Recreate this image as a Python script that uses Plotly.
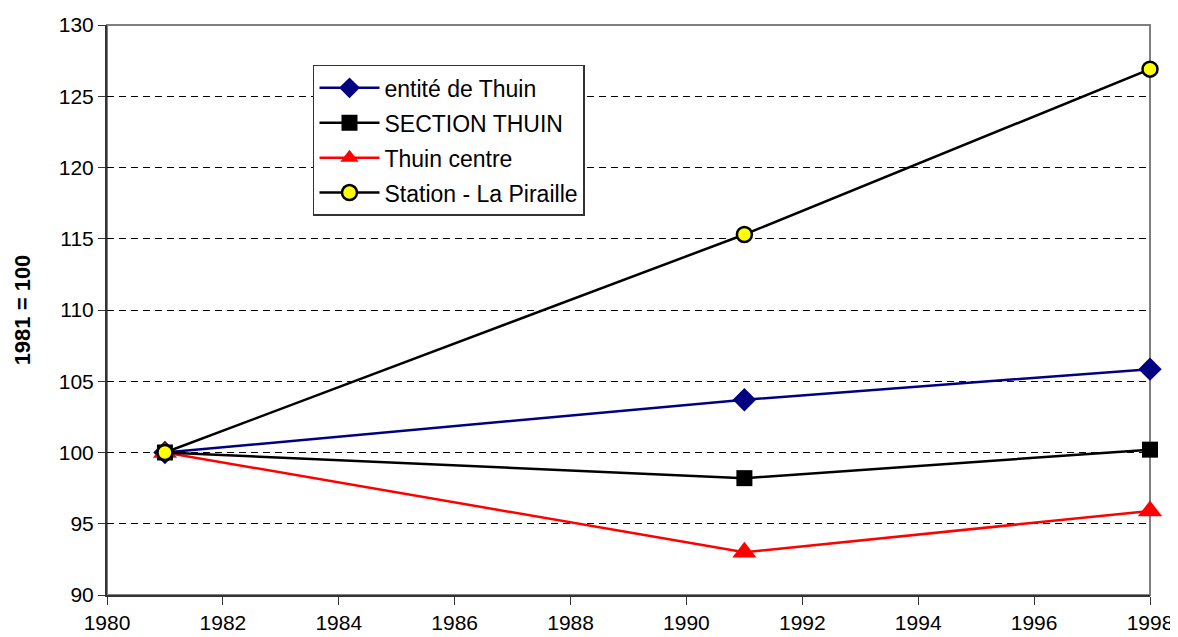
import plotly.graph_objects as go

years = [1981, 1991, 1998]
entite = [100, 103.7, 105.85]
section = [100, 98.2, 100.2]
centre = [100, 93.0, 95.9]
station = [100, 115.3, 126.9]

names = ["entité de Thuin", "SECTION THUIN", "Thuin centre", "Station - La Piraille"]

fig = go.Figure()
fig.add_trace(go.Scatter(x=years, y=entite, name=names[0], mode="lines+markers",
                         line=dict(color="#000080", width=2.5), legendgroup="a", legendrank=1,
                         cliponaxis=False,
                         marker=dict(symbol="diamond", size=18, color="#000080")))
fig.add_trace(go.Scatter(x=years, y=centre, name=names[2], mode="lines+markers",
                         line=dict(color="#ff0000", width=2.5), legendgroup="c", legendrank=3,
                         cliponaxis=False,
                         marker=dict(symbol="triangle-up", size=21, color="#ff0000")))
fig.add_trace(go.Scatter(x=years, y=section, name=names[1], mode="lines+markers",
                         line=dict(color="#000000", width=2.5), legendgroup="b", legendrank=2,
                         cliponaxis=False,
                         marker=dict(symbol="square", size=16, color="#000000")))
fig.add_trace(go.Scatter(x=years, y=station, name=names[3], mode="lines+markers",
                         line=dict(color="#000000", width=2.5), legendgroup="d", legendrank=4,
                         cliponaxis=False,
                         marker=dict(symbol="circle", size=15, color="#ffff00",
                                     line=dict(color="#000000", width=2.5))))

fig.add_shape(type="rect", xref="paper", yref="paper", x0=0, x1=1, y0=0, y1=1,
              line=dict(color="#808080", width=2), layer="below")

fig.update_layout(
    width=1170, height=629,
    margin=dict(l=99, r=28, t=17, b=42, autoexpand=False),
    paper_bgcolor="white", plot_bgcolor="white",
    font=dict(family="Liberation Sans, Arial, sans-serif", size=21, color="black"),
    showlegend=True,
    legend=dict(x=0.1975, y=0.93, xanchor="left", yanchor="top",
                bordercolor="#333333", borderwidth=1.5, bgcolor="white",
                font=dict(size=23), tracegroupgap=2, itemwidth=60,
                traceorder="grouped"),
    xaxis=dict(range=[1980, 1998], tick0=1980, dtick=2, showgrid=False,
               showline=True, linecolor="#333333", linewidth=2,
               ticks="outside", ticklen=8, tickcolor="#333333",
               tickfont=dict(size=21), automargin=False,
               zeroline=False),
    yaxis=dict(range=[90, 130], dtick=5, showgrid=True, gridcolor="#000000",
               griddash="7px,5px", gridwidth=1,
               showline=True, linecolor="#333333", linewidth=2,
               ticks="outside", ticklen=7, tickcolor="#333333", zeroline=False,
               tickfont=dict(size=21), automargin=False,
               title=dict(text="<b>1981 = 100</b>", font=dict(size=22), standoff=22)),
)

fig.write_html("out.html")
